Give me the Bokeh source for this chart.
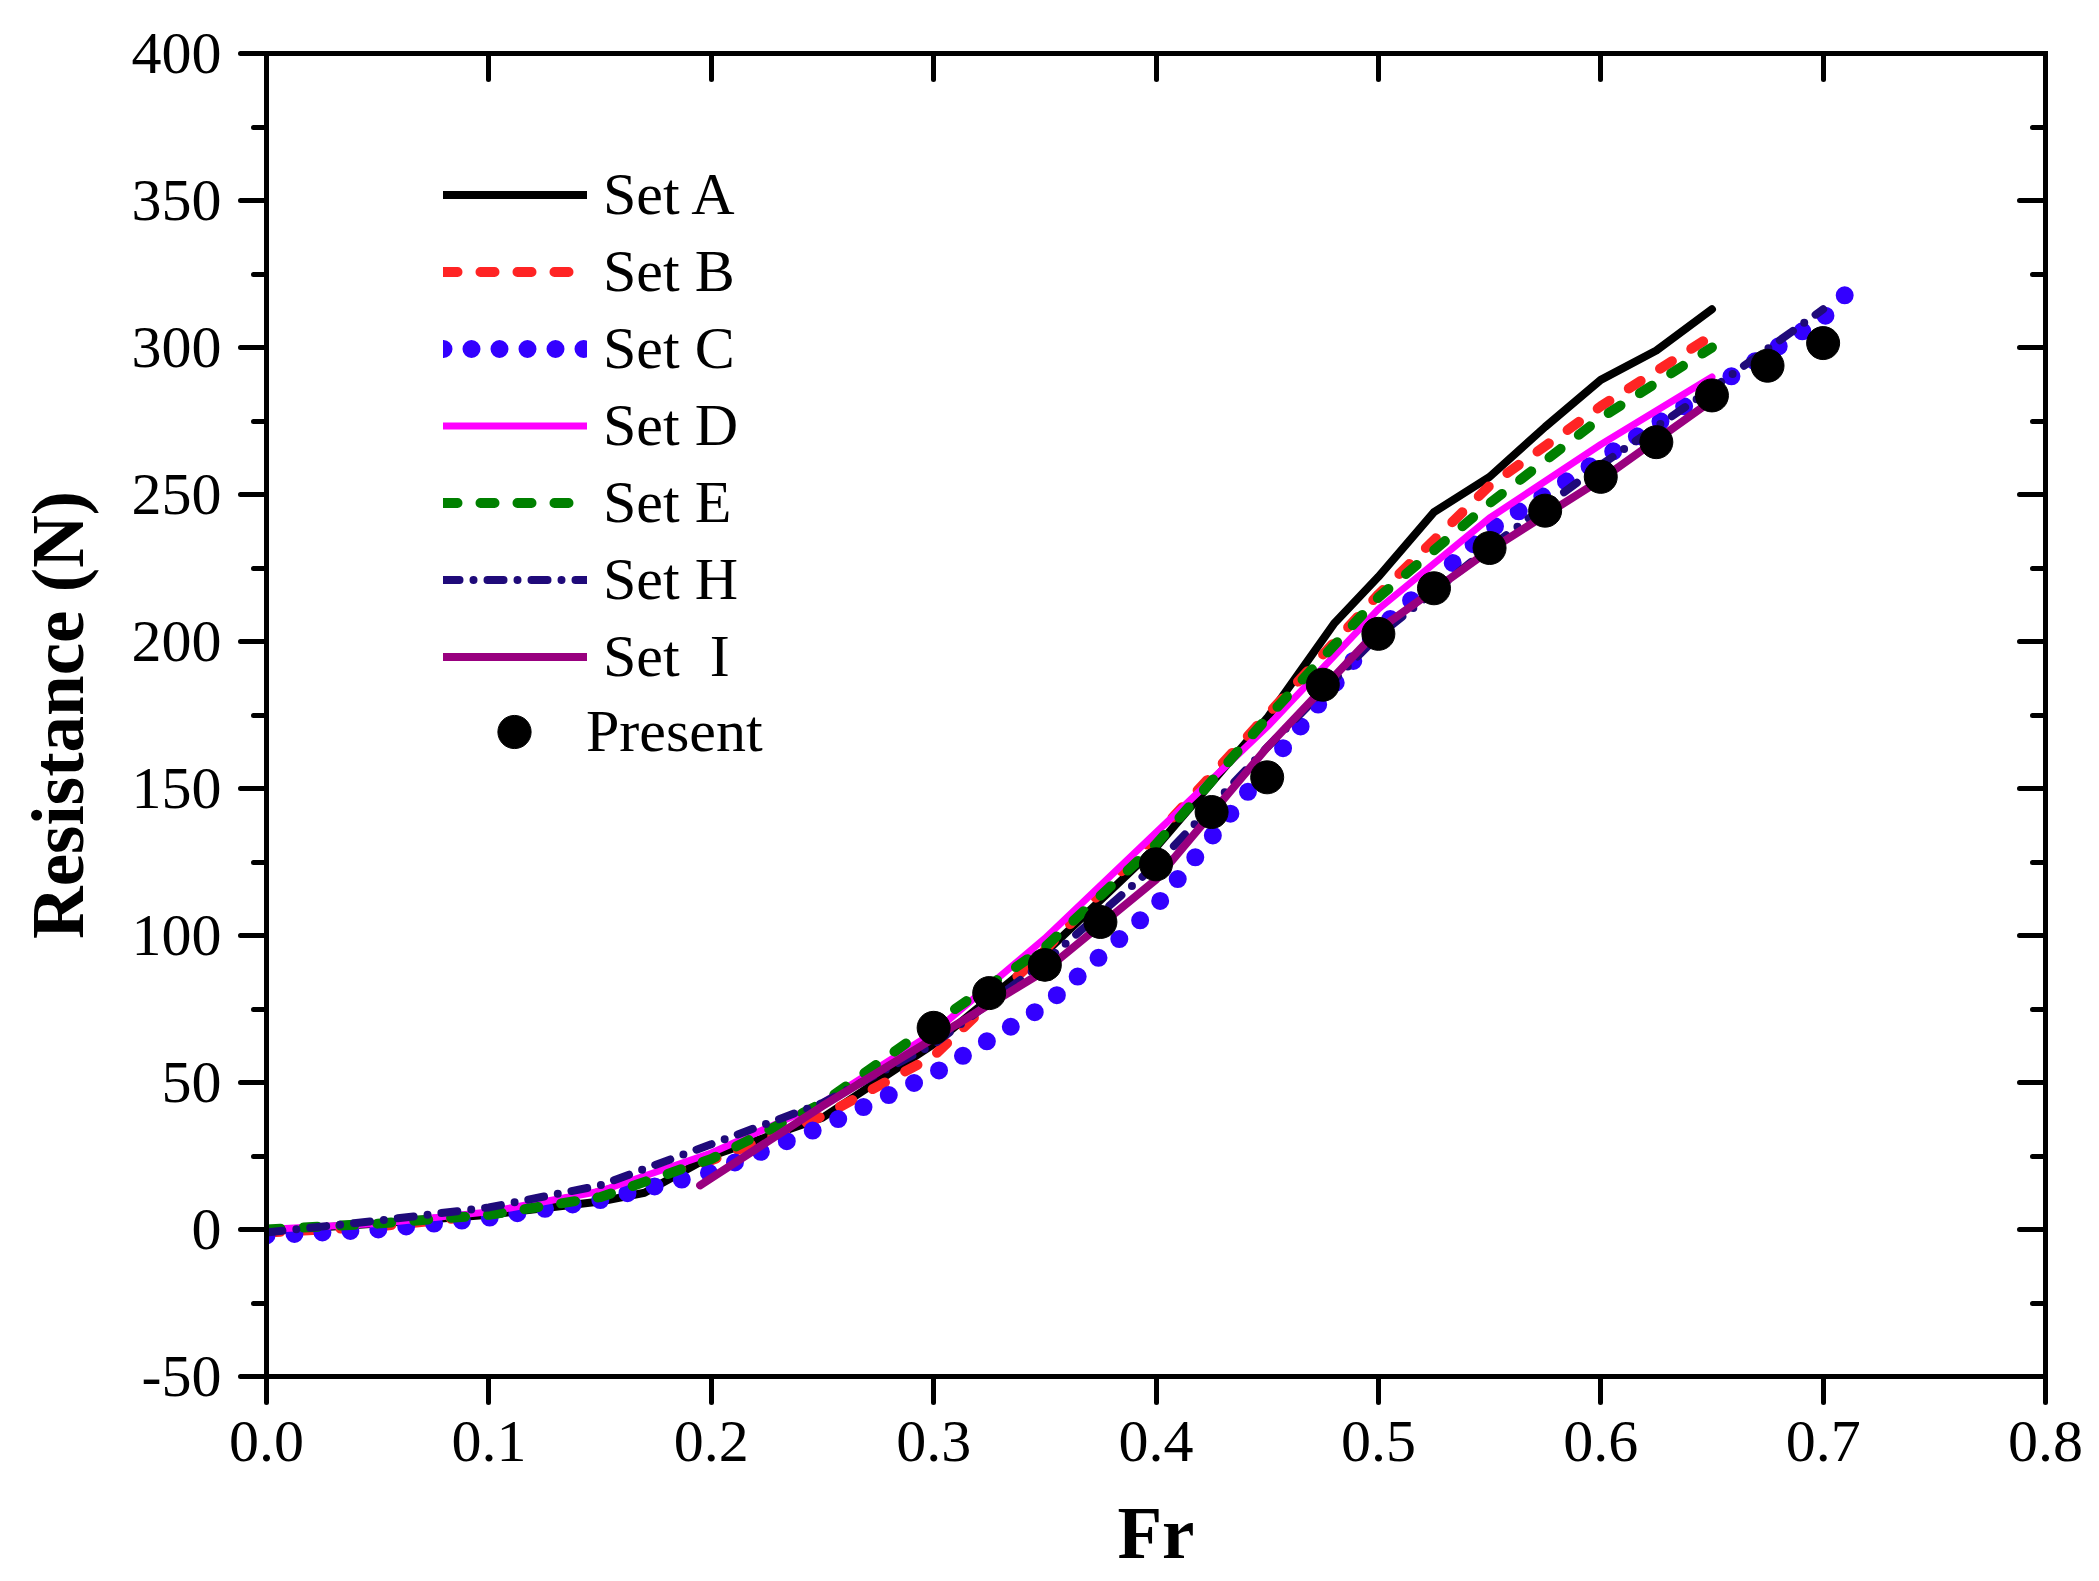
from bokeh.plotting import figure
from bokeh.models import (Range1d, LinearAxis, FixedTicker, Legend, LegendItem,
                          PrintfTickFormatter, CustomJSTickFormatter)
from bokeh.embed import file_html
from bokeh.resources import INLINE

# ---------------- data ----------------
fr_A = [0, 0.05, 0.1, 0.15, 0.17, 0.2, 0.25, 0.3, 0.35, 0.4, 0.45, 0.48, 0.5, 0.525, 0.55, 0.575, 0.6, 0.625, 0.65]
res_A = [-0.5, 2, 5, 9.5, 12.5, 25, 38, 63, 94, 130, 174, 206, 222, 244, 256, 273, 289, 299, 313]

fr_B = [0, 0.05, 0.1, 0.15, 0.2, 0.25, 0.3, 0.35, 0.4, 0.45, 0.5, 0.55, 0.6, 0.65]
res_B = [-1, 1, 5, 12.5, 23.5, 38.5, 59, 95, 134, 175, 216, 253, 280, 304]

fr_C = [0, 0.05, 0.1, 0.15, 0.2, 0.25, 0.3, 0.35, 0.4, 0.45, 0.5, 0.55, 0.6, 0.65, 0.7, 0.71]
res_C = [-2, 0, 4, 10, 19.5, 35, 53, 76, 110, 157, 204, 238, 262, 286, 310, 318]

fr_D = [0, 0.05, 0.1, 0.15, 0.2, 0.25, 0.3, 0.35, 0.4, 0.45, 0.5, 0.55, 0.6, 0.65]
res_D = [0, 2, 6, 13, 26, 43, 67, 99, 135, 171, 211, 242, 267, 290]

fr_E = [0, 0.05, 0.1, 0.15, 0.2, 0.25, 0.3, 0.35, 0.4, 0.45, 0.5, 0.55, 0.6, 0.65]
res_E = [0, 2, 5, 11, 24, 43, 70, 96, 131, 174, 215, 247, 276, 300]

fr_H = [0, 0.05, 0.1, 0.15, 0.2, 0.25, 0.3, 0.35, 0.4, 0.45, 0.5, 0.55, 0.6, 0.65, 0.7]
res_H = [-1, 3, 7.5, 15, 29, 43, 63, 91, 124, 164, 202, 232, 260, 286, 313]

fr_I = [0.195, 0.2, 0.25, 0.3, 0.35, 0.4, 0.45, 0.5, 0.55, 0.6, 0.65]
res_I = [15, 17.5, 42, 65, 88, 119, 164, 204, 231, 255, 282]

fr_P = [0.3, 0.325, 0.35, 0.375, 0.4, 0.425, 0.45, 0.475, 0.5, 0.525, 0.55, 0.575, 0.6, 0.625, 0.65, 0.675, 0.7]
res_P = [68.6, 80.4, 90, 104.6, 124.2, 142, 153.8, 185.3, 202.6, 218.1, 231.8, 244.5, 256, 267.8, 283.7, 293.8, 301.5]

x_ticks = [0.0, 0.1, 0.2, 0.3, 0.4, 0.5, 0.6, 0.7, 0.8]
y_ticks = [-50, 0, 50, 100, 150, 200, 250, 300, 350, 400]
y_minor = [-25, 25, 75, 125, 175, 225, 275, 325, 375]

labels = ["Set A", "Set B", "Set C", "Set D", "Set E", "Set H", "Set  I"]

FONT = "Liberation Serif"

# ---------------- figure ----------------
p = figure(frame_width=1779, frame_height=1323, x_range=Range1d(0, 0.8), y_range=Range1d(-50, 400),
           output_backend="svg", toolbar_location=None)
p.min_border_left = 266
p.min_border_right = 46
p.min_border_top = 53
p.min_border_bottom = 0
p.grid.visible = False
p.outline_line_color = None
p.background_fill_color = "white"
p.border_fill_color = "white"

xt = FixedTicker(ticks=x_ticks, minor_ticks=[])
yt = FixedTicker(ticks=y_ticks, minor_ticks=y_minor)

def style_axis(ax, outward=True):
    ax.axis_line_width = 5
    ax.axis_line_color = "black"
    ax.axis_line_cap = "square"
    ax.major_tick_line_width = 5
    ax.minor_tick_line_width = 5
    ax.major_tick_line_cap = "round"
    ax.minor_tick_line_cap = "round"
    if outward:
        ax.major_tick_out = 26
        ax.major_tick_in = 0
        ax.minor_tick_out = 13
        ax.minor_tick_in = 0
    else:
        ax.major_tick_out = 0
        ax.major_tick_in = 26
        ax.minor_tick_out = 0
        ax.minor_tick_in = 13
    ax.major_label_text_font = FONT
    ax.major_label_text_font_size = "60px"
    ax.major_label_text_color = "black"
    ax.axis_label_text_font = FONT
    ax.axis_label_text_font_size = "73px"
    ax.axis_label_text_font_style = "bold"
    ax.axis_label_text_color = "black"

xa = p.xaxis[0]
xa.ticker = xt
xa.formatter = PrintfTickFormatter(format="%.1f")
xa.axis_label = "Fr"
style_axis(xa)
xa.major_label_standoff = 19
xa.axis_label_standoff = 29

ya = p.yaxis[0]
ya.ticker = yt
ya.formatter = PrintfTickFormatter(format="%d")
ya.axis_label = "Resistance (N)"
style_axis(ya)
ya.major_label_standoff = 19
ya.axis_label_standoff = 30

empty = CustomJSTickFormatter(code="return ''")
top = LinearAxis(ticker=FixedTicker(ticks=x_ticks, minor_ticks=[]), formatter=empty)
style_axis(top, outward=False)
top.major_label_text_font_size = "1px"
top.major_label_standoff = 0
p.add_layout(top, "above")

right = LinearAxis(ticker=FixedTicker(ticks=y_ticks, minor_ticks=y_minor), formatter=empty)
style_axis(right, outward=False)
right.major_label_text_font_size = "1px"
right.major_label_standoff = 0
p.add_layout(right, "right")

# ---------------- series ----------------
rA = p.line(fr_A, res_A, line_color="black", line_width=8, line_cap="round", line_join="round")
rB = p.line(fr_B, res_B, line_color="#FF2424", line_width=10, line_dash="14 23", line_cap="round", line_join="round")
rC = p.line(fr_C, res_C, line_color="#3300FF", line_width=18, line_dash="0 28", line_cap="round", line_join="round")
rD = p.line(fr_D, res_D, line_color="#FF00FF", line_width=7, line_cap="round", line_join="round")
rE = p.line(fr_E, res_E, line_color="#008000", line_width=10, line_dash="14 23", line_cap="round", line_join="round")
rH = p.line(fr_H, res_H, line_color="#1F0A7A", line_width=8, line_dash="16 14 0 14", line_cap="round", line_join="round")
rI = p.line(fr_I, res_I, line_color="#99007F", line_width=8, line_cap="round", line_join="round")
rP = p.scatter(fr_P, res_P, marker="circle", size=33, fill_color="black", line_color="black")

renderers = [rA, rB, rC, rD, rE, rH, rI]
items1 = [LegendItem(label=lab, renderers=[r]) for lab, r in zip(labels, renderers)]

def style_legend(lg):
    lg.border_line_color = None
    lg.background_fill_alpha = 0
    lg.padding = 0
    lg.margin = 0
    lg.spacing = 0
    lg.label_text_font = FONT
    lg.label_text_font_size = "60px"
    lg.label_text_color = "black"

leg1 = Legend(items=items1, location=(177, 681), glyph_width=144, glyph_height=77,
              label_height=77, label_standoff=16)
style_legend(leg1)
p.add_layout(leg1)

leg2 = Legend(items=[LegendItem(label="Present", renderers=[rP])], location=(193, 603),
              glyph_width=110, glyph_height=83, label_height=83, label_standoff=17)
style_legend(leg2)
p.add_layout(leg2)

open("out.html", "w").write(file_html(p, INLINE))
